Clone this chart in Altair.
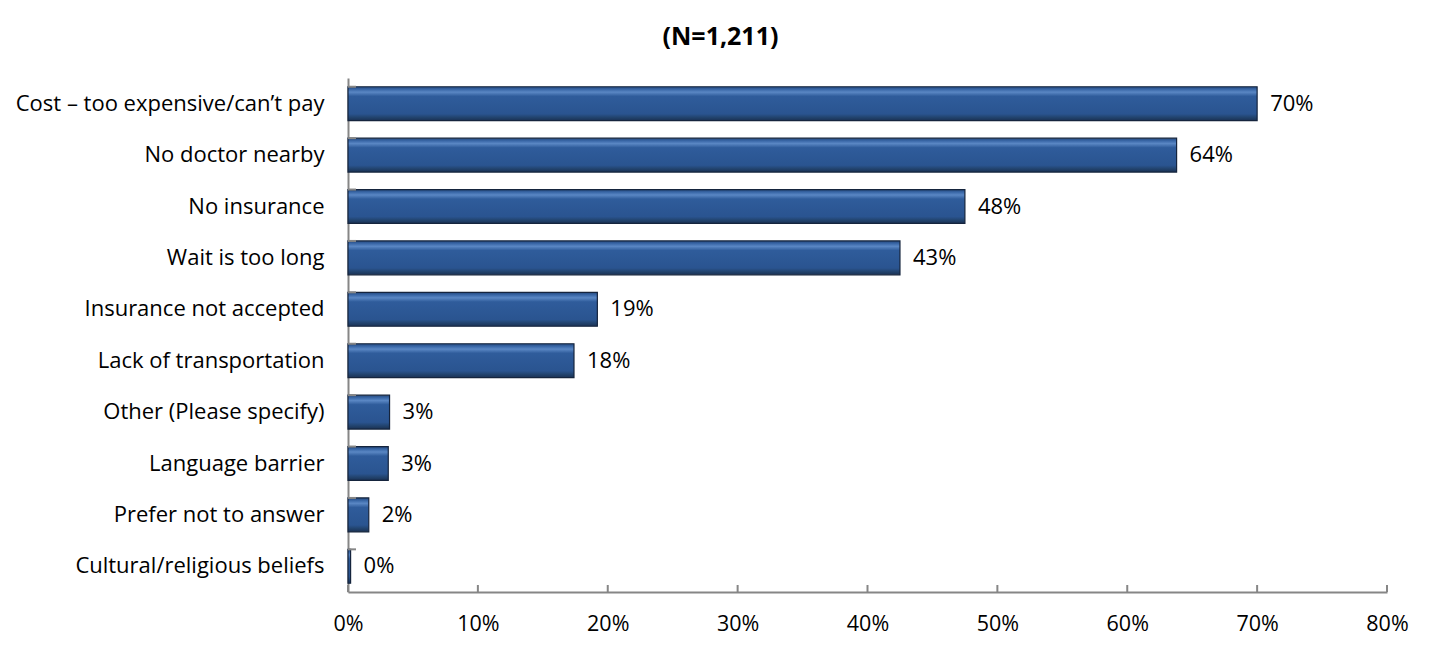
import altair as alt
import pandas as pd

categories = [
    "Cost \u2013 too expensive/can\u2019t pay",
    "No doctor nearby",
    "No insurance",
    "Wait is too long",
    "Insurance not accepted",
    "Lack of transportation",
    "Other (Please specify)",
    "Language barrier",
    "Prefer not to answer",
    "Cultural/religious beliefs",
]
values = [70.0, 63.8, 47.5, 42.5, 19.2, 17.4, 3.2, 3.1, 1.6, 0.2]
labels = ["70%", "64%", "48%", "43%", "19%", "18%", "3%", "3%", "2%", "0%"]
x_ticks = [0, 10, 20, 30, 40, 50, 60, 70, 80]

df = pd.DataFrame({"category": categories, "value": values, "label": labels})
ticks_df = pd.DataFrame({"t": x_ticks})

W, H = 1039, 514
FONT = "Open Sans"

gradient = alt.LinearGradient(
    gradient="linear",
    x1=0, y1=0, x2=0, y2=1,
    stops=[
        alt.GradientStop(offset=0.0, color="#23487E"),
        alt.GradientStop(offset=0.08, color="#3A68A8"),
        alt.GradientStop(offset=0.16, color="#5A87C4"),
        alt.GradientStop(offset=0.28, color="#2F5C9B"),
        alt.GradientStop(offset=0.80, color="#2A5490"),
        alt.GradientStop(offset=0.90, color="#22446F"),
        alt.GradientStop(offset=1.0, color="#1A3154"),
    ],
)

y_enc = alt.Y(
    "category:N",
    sort=categories,
    scale=alt.Scale(paddingInner=0.34, paddingOuter=0.17),
    axis=alt.Axis(
        title=None,
        domainColor="#868686",
        domainWidth=2,
        ticks=False,
        labelFont=FONT,
        labelFontSize=22,
        labelColor="#000000",
        labelPadding=24,
        labelLimit=400,
    ),
)
x_enc = alt.X(
    "value:Q",
    scale=alt.Scale(domain=[0, 80], nice=False),
    axis=alt.Axis(
        title=None,
        values=x_ticks,
        labelExpr="datum.value + '%'",
        domainColor="#868686",
        domainWidth=2,
        ticks=False,
        grid=False,
        labelFont=FONT,
        labelFontSize=21.5,
        labelColor="#000000",
        labelPadding=21,
        labelFlush=False,
    ),
)

base = alt.Chart(df)

bars = base.mark_bar(
    color=gradient, stroke="#15243D", strokeWidth=1.2
).encode(x=x_enc, y=y_enc)

text = base.mark_text(
    align="left", baseline="middle", dx=13, font=FONT, fontSize=22, color="#000000"
).encode(
    x=alt.X("value:Q"),
    y=alt.Y("category:N", sort=categories),
    text="label:N",
)

ytick = base.mark_rule(color="#868686", strokeWidth=2).encode(
    y=alt.Y("category:N", sort=categories, bandPosition=0),
    x=alt.value(0),
    x2=alt.value(8),
)

xtick = alt.Chart(ticks_df).mark_rule(color="#868686", strokeWidth=2).encode(
    x=alt.X("t:Q"),
    y=alt.value(H - 7),
    y2=alt.value(H),
)

chart = (
    alt.layer(bars, ytick, xtick, text)
    .properties(
        width=W,
        height=H,
        title=alt.TitleParams(
            "(N=1,211)",
            font=FONT,
            fontSize=25,
            fontWeight="bold",
            color="#000000",
            anchor="middle",
            dx=-147,
            offset=28,
        ),
        padding={"left": 340, "top": 70, "right": 30, "bottom": 50},
        autosize=alt.AutoSizeParams(type="none"),
    )
    .configure(background="#FFFFFF")
    .configure_view(strokeWidth=0, stroke="transparent")
)

chart.save("out.html", embed_options={"renderer": "svg", "actions": False})
